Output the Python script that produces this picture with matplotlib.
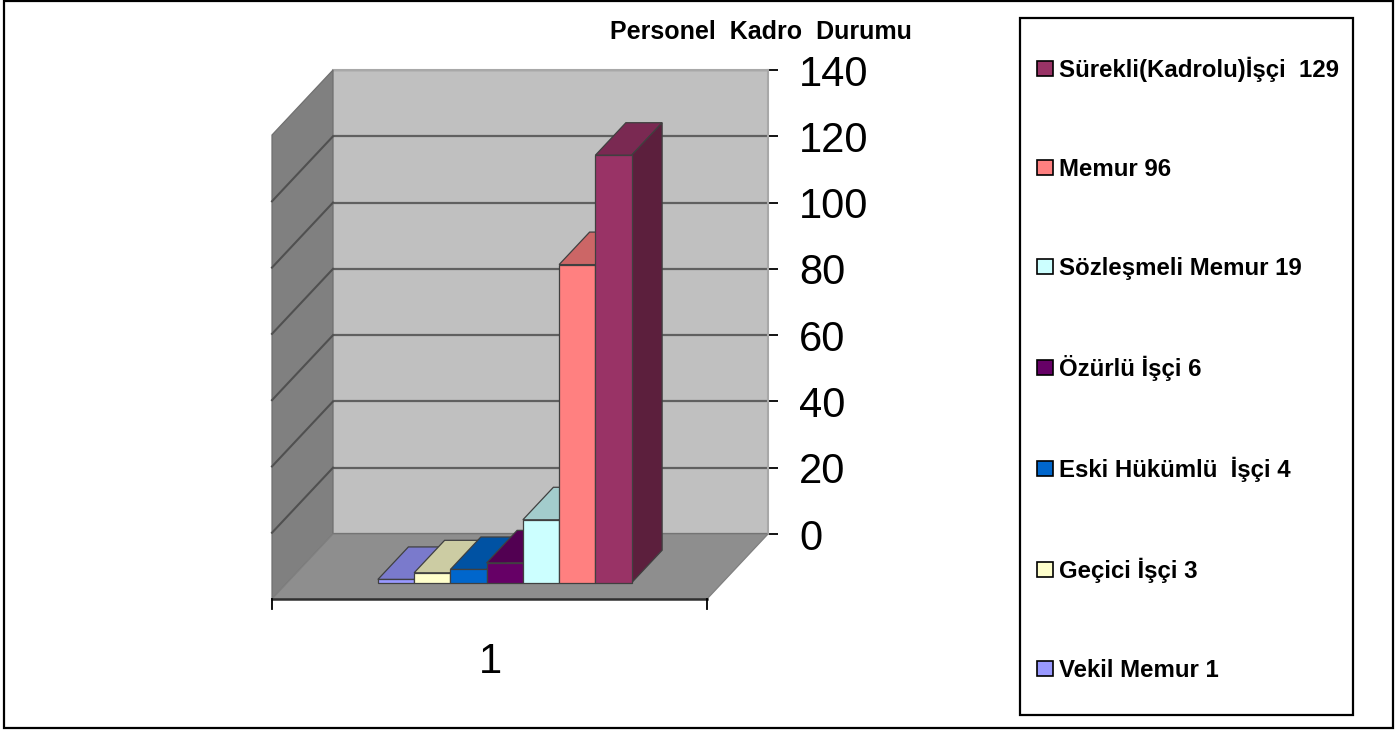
import matplotlib
matplotlib.use("Agg")
import matplotlib.pyplot as plt
from matplotlib.patches import Polygon, Patch, Rectangle
from matplotlib.colors import to_rgb

plt.rcParams['font.family'] = ['Liberation Sans', 'DejaVu Sans']

names = ["Vekil Memur", "Geçici İşçi", "Eski Hükümlü  İşçi", "Özürlü İşçi",
         "Sözleşmeli Memur", "Memur", "Sürekli(Kadrolu)İşçi "]
values = [1, 3, 4, 6, 19, 96, 129]
colors = ["#9999FF", "#FFFFCC", "#0066CC", "#660066", "#CCFFFF", "#FF8080", "#993366"]
y_ticks = [0, 20, 40, 60, 80, 100, 120, 140]
title = "Personel  Kadro  Durumu"
category = "1"

W, H = 1399, 730
fig = plt.figure(figsize=(W / 100, H / 100), dpi=100, facecolor="white")


def fig_box(x0, y0, x1, y1):
    # pixel box to figure fractions
    return [x0 / W, 1 - y1 / H, (x1 - x0) / W, (y1 - y0) / H]


# outer frame and legend frame
l, b, w, h = fig_box(4, 1, 1393, 728)
fig.add_artist(Rectangle((l, b), w, h, transform=fig.transFigure, fill=False, ec="black", lw=1.6))
l, b, w, h = fig_box(1019.5, 18, 1353, 715)
fig.add_artist(Rectangle((l, b), w, h, transform=fig.transFigure, fill=False, ec="black", lw=1.6))

# back wall is the real axes, x in bar widths, y in chart values
ax = fig.add_axes(fig_box(333, 70, 768, 534))
n_slots = 12
ax.set_xlim(0, n_slots)
ax.set_ylim(0, 140)
ax.set_facecolor("#C0C0C0")
ax.set_xticks([])
ax.set_yticks(y_ticks)
ax.yaxis.tick_right()
ax.tick_params(axis='y', length=7.5, width=1.3, pad=15, labelsize=30, color="black")
ax.grid(axis='y', color="#606060", lw=1.6)
ax.set_axisbelow(True)
for s in ["top", "right", "left", "bottom"]:
    ax.spines[s].set_visible(s in ("top", "right"))
    ax.spines[s].set_color("#A8A8A8")
    ax.spines[s].set_linewidth(1.5)

DX = -61 / 435 * n_slots   # depth shift in x units
DY = -65 / 464 * 140       # depth shift in y units


def proj(x, v, d):
    return (x + DX * d, v + DY * d)


def face(pts, color, z=3, ec="#404040", lw=0.9):
    ax.add_patch(Polygon([proj(*p) for p in pts], closed=True, fc=color, ec=ec, lw=lw,
                         clip_on=False, zorder=z))


def shade(c, k):
    return tuple(v * k for v in to_rgb(c))


# left wall and floor
face([(0, 0, 0), (0, 140, 0), (0, 140, 1), (0, 0, 1)], "#808080", ec="#707070")
face([(0, 0, 0), (n_slots, 0, 0), (n_slots, 0, 1), (0, 0, 1)], "#8E8E8E", ec="#808080")
for t in y_ticks[1:-1]:
    xs, ys = zip(proj(0, t, 0), proj(0, t, 1))
    ax.plot(xs, ys, color="#505050", lw=1.5, clip_on=False, zorder=3.5)
xs, ys = zip(proj(0, 0, 1), proj(n_slots, 0, 1))
ax.plot(xs, ys, color="#303030", lw=1.8, clip_on=False, zorder=3.5)
for x in [0, n_slots]:
    xs, ys = zip(proj(x, 0, 1), proj(x, -3, 1))
    ax.plot(xs, ys, color="black", lw=1.3, clip_on=False, zorder=3.5)
tx, ty = proj(n_slots / 2 + 0.03, -13, 1)
ax.text(tx, ty, category, fontsize=30, ha="center", va="top", clip_on=False)

# bars, left to right so each one hides the side of the previous one
start = (n_slots - len(values)) / 2
d0, d1 = 0.25, 0.75
for i, (val, col) in enumerate(zip(values, colors)):
    x0, x1 = start + i, start + i + 1
    z = 4 + i * 0.1
    face([(x0, val, d1), (x1, val, d1), (x1, val, d0), (x0, val, d0)], shade(col, 0.8), z)
    face([(x1, 0, d1), (x1, val, d1), (x1, val, d0), (x1, 0, d0)], shade(col, 0.6), z)
    face([(x0, 0, d1), (x1, 0, d1), (x1, val, d1), (x0, val, d1)], col, z)

fig.text(761 / W, 1 - 32 / H, title, fontsize=18, fontweight="bold", ha="center", va="center")

handles = [Patch(fc=c, ec="black", lw=1.2) for c in colors[::-1]]
labels = [f"{a} {v}" for a, v in zip(names[::-1], values[::-1])]
fig.legend(handles, labels, loc="upper left", bbox_to_anchor=(1037 / W, 1 - 57 / H),
           frameon=False, borderpad=0, borderaxespad=0, handlelength=0.67, handleheight=0.6,
           handletextpad=0.25, labelspacing=3.15,
           prop={"size": 17.3, "weight": "bold"})

fig.savefig("out.png", dpi=100)
